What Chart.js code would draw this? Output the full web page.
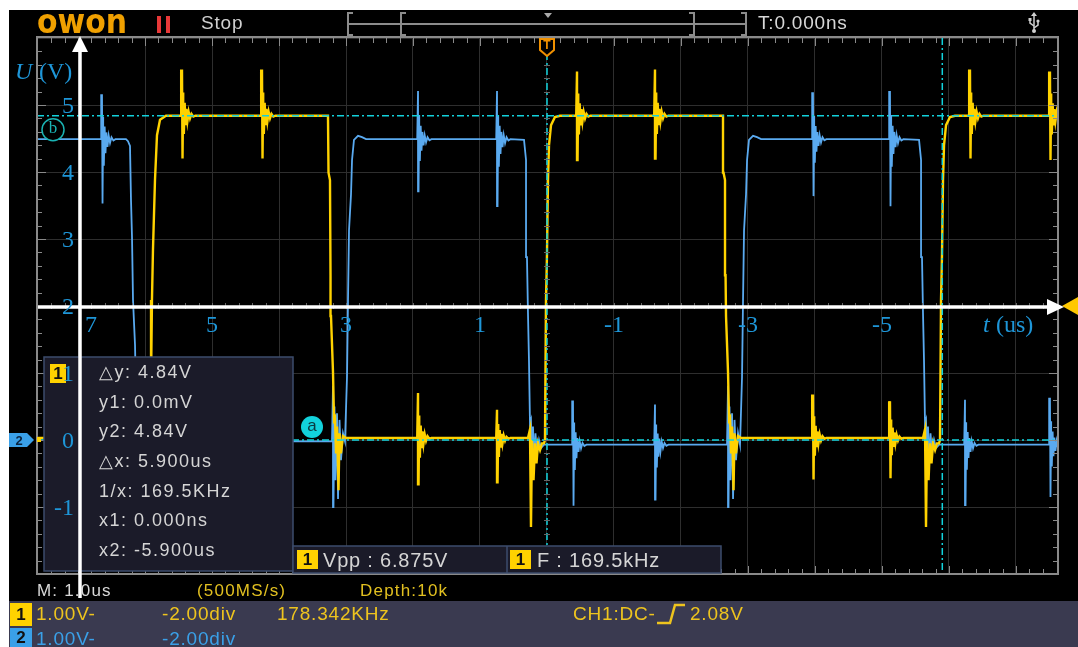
<!DOCTYPE html>
<html>
<head>
<meta charset="utf-8">
<title>OWON capture</title>
<script src="https://cdn.jsdelivr.net/npm/chart.js@4.4.1/dist/chart.umd.min.js"></script>
<style>
  html, body { margin: 0; padding: 0; background: #fff; }
  canvas { display: block; }
</style>
</head>
<body>
<canvas id="scope" width="1078" height="647"></canvas>
<script>
// CH1 (yellow) corner points, time in us (trigger = 0), volts
const ch1Time = [7.612, 5.925, 5.910, 5.896, 5.881, 5.851, 5.821, 5.776, 5.687,
  3.269, 3.261, 3.239, 3.231, 3.224, 3.194, 3.179, 3.164, 3.149, 3.134, 3.112, 3.097, 3.075, 3.045, 3.000,
  0.284, 0.254, 0.239, 0.224, 0.201, 0.179, 0.157, 0.134, 0.104, 0.075, 0.045, 0.030, 0.015, 0, -0.015, -0.030, -0.060, -0.119, -0.194,
  -2.627, -2.635, -2.657, -2.665, -2.672, -2.702, -2.717, -2.732, -2.747, -2.762, -2.784, -2.799, -2.821, -2.851, -2.896,
  -5.612, -5.642, -5.657, -5.672, -5.695, -5.717, -5.739, -5.762, -5.792, -5.821, -5.851, -5.866, -5.881, -5.896, -5.911, -5.926, -5.956, -6.015, -6.090, -7.700];
const ch1Volt = [0.03, 0.03, 0.90, 2.09, 2.84, 3.88, 4.55, 4.78, 4.84,
  4.84, 3.99, 3.88, 2.46, 1.85, 1.01, 0.30, 0.33, -0.20, 0.20, -0.75, 0.10, -0.20, 0.06, 0.03,
  0.03, 0.16, -1.30, 0.00, -0.60, -0.05, -0.35, -0.05, -0.15, -0.05, -0.05, 0.00, 2.09, 2.78, 3.88, 4.40, 4.70, 4.82, 4.84,
  4.84, 3.99, 3.88, 2.46, 1.85, 1.01, 0.30, 0.33, -0.20, 0.20, -0.75, 0.10, -0.20, 0.06, 0.03,
  0.03, 0.16, -1.30, 0.00, -0.60, -0.05, -0.35, -0.05, -0.15, -0.05, -0.05, 0.00, 2.09, 2.78, 3.88, 4.40, 4.70, 4.82, 4.84, 4.84];

// CH2 (blue) corner points
const ch2Time = [7.612, 6.284, 6.254, 6.224, 6.209, 6.194, 6.179, 6.149, 6.134, 6.104, 6.075,
  3.209, 3.194, 3.187, 3.172, 3.157, 3.134, 3.119, 3.097, 3.075, 3.045, 3.015, 2.985, 2.970, 2.955, 2.925, 2.910, 2.881, 2.821, 2.761, 2.701,
  0.343, 0.313, 0.299, 0.284, 0.269, 0.254, 0.239, 0.224, 0.209, 0.194, 0.172, 0.149, 0.119, 0.090, 0.045,
  -2.687, -2.702, -2.709, -2.724, -2.739, -2.762, -2.777, -2.799, -2.821, -2.851, -2.881, -2.911, -2.926, -2.941, -2.971, -2.986, -3.015, -3.075, -3.135, -3.195,
  -5.553, -5.583, -5.597, -5.612, -5.627, -5.642, -5.657, -5.672, -5.687, -5.702, -5.724, -5.747, -5.777, -5.806, -5.851, -7.700];
const ch2Volt = [4.49, 4.49, 4.46, 4.39, 3.58, 3.03, 2.09, 1.42, 0.60, 0.00, -0.02,
  -0.02, 0.81, -1.00, 0.50, -0.60, 0.40, -0.88, 0.30, -0.30, 0.10, -0.02, 0.94, 2.09, 3.13, 3.67, 4.18, 4.48, 4.54, 4.52, 4.49,
  4.48, 4.18, 2.73, 1.90, 1.19, 0.25, 0.30, -0.37, 0.20, -0.30, 0.10, -0.20, 0.00, -0.12, -0.07,
  -0.07, 0.81, -1.00, 0.50, -0.60, 0.40, -0.88, 0.30, -0.30, 0.10, -0.07, 0.94, 2.09, 3.13, 3.67, 4.18, 4.48, 4.54, 4.52, 4.49,
  4.48, 4.18, 2.73, 1.90, 1.19, 0.25, 0.30, -0.37, 0.20, -0.30, 0.10, -0.20, 0.00, -0.12, -0.07, -0.07];

// ringing bursts (crosstalk) on each channel: time, level, peak up, peak down
const ch1SpikeTime = [6.642, 5.448, 4.254, 1.925, 0.746, -0.448, -1.612, -3.970, -5.119, -6.313, -7.507];
const ch1SpikeBase = [0.03, 4.84, 4.84, 0.03, 0.03, 4.84, 4.84, 0.03, 0.03, 4.84, 4.84];
const ch1SpikeUp = [0.65, 0.69, 0.69, 0.67, 0.42, 0.66, 0.69, 0.65, 0.55, 0.69, 0.66];
const ch1SpikeDown = [0.65, 0.64, 0.64, 0.69, 0.66, 0.66, 0.64, 0.62, 0.60, 0.64, 0.66];

const ch2SpikeTime = [6.642, 5.448, 4.254, 1.925, 0.746, -0.388, -1.612, -3.970, -5.119, -6.239, -7.507];
const ch2SpikeBase = [4.49, -0.02, -0.02, 4.49, 4.49, -0.07, -0.07, 4.49, 4.49, -0.07, -0.07];
const ch2SpikeUp = [0.67, 0.65, 0.65, 0.72, 0.72, 0.66, 0.60, 0.70, 0.72, 0.67, 0.70];
const ch2SpikeDown = [0.96, 0.90, 0.90, 0.78, 1.00, 0.91, 0.82, 0.85, 1.00, 0.90, 0.78];

// shape of one burst as seen on screen: delay (us) and share of the peak
const ringDt = [-0.012, 0, 0.008, 0.018, 0.028, 0.040, 0.052, 0.066, 0.082, 0.100, 0.120, 0.142, 0.170, 0.200];
const ringK = [0, 1, -1, 0.5, -0.4, 0.28, -0.22, 0.15, -0.12, 0.08, -0.06, 0.04, -0.02, 0];

const gridTimes = [-7, -6, -5, -4, -3, -2, -1, 0, 1, 2, 3, 4, 5, 6, 7];
const gridVolts = [-2, -1, 0, 1, 2, 3, 4, 5, 6];
const uLabels = [5, 4, 3, 2, 1, 0, -1];
const tLabels = [7, 5, 3, 1, -1, -3, -5];
const cursorTimes = [0, -5.9];
const cursorVolts = [0, 4.84];
const measureLines = ['\u25B3y: 4.84V', 'y1: 0.0mV', 'y2: 4.84V', '\u25B3x: 5.900us', '1/x: 169.5KHz', 'x1: 0.000ns', 'x2: -5.900us'];

function buildTrace(times, volts, spT, spBase, spUp, spDown) {
  const pts = times.map((t, i) => ({x: t, y: volts[i]}));
  spT.forEach((ts, i) => {
    ringDt.forEach((d, j) => {
      const k = ringK[j];
      const dv = k >= 0 ? k * spUp[i] : k * spDown[i];
      pts.push({x: ts - d, y: spBase[i] + dv});
    });
  });
  return pts.sort((a, b) => a.x - b.x);
}

const ch1Data = buildTrace(ch1Time, ch1Volt, ch1SpikeTime, ch1SpikeBase, ch1SpikeUp, ch1SpikeDown);
const ch2Data = buildTrace(ch2Time, ch2Volt, ch2SpikeTime, ch2SpikeBase, ch2SpikeUp, ch2SpikeDown);

const YEL = '#ffd200';
const BLU = '#5aaaf0';
const CYAN = '#12d2dc';
const LBL = '#1e96d8';
const SANS = '"Liberation Sans", Arial, sans-serif';
const SERIF = '"Liberation Serif", "Times New Roman", serif';

function txt(ctx, s, x, y, color, font, align, spacing) {
  ctx.font = font;
  ctx.fillStyle = color;
  ctx.textAlign = align || 'left';
  ctx.textBaseline = 'middle';
  ctx.letterSpacing = spacing || '0px';
  ctx.fillText(s, x, y);
  ctx.letterSpacing = '0px';
}

function seg(ctx, x1, y1, x2, y2) {
  ctx.beginPath();
  ctx.moveTo(x1, y1);
  ctx.lineTo(x2, y2);
  ctx.stroke();
}

function ybox(ctx, x, y, w, h, fill, label) {
  ctx.fillStyle = fill;
  ctx.fillRect(x, y, w, h);
  txt(ctx, label, x + w / 2, y + h / 2 + 1, '#111', 'bold 17px ' + SANS, 'center');
}

const scopeDeco = {
  id: 'scopeDeco',
  beforeDraw(chart) {
    const ctx = chart.ctx;
    ctx.save();
    ctx.fillStyle = '#000';
    ctx.fillRect(0, 0, 1078, 647);
    ctx.fillStyle = '#3a3a50';
    ctx.fillRect(0, 601, 1078, 46);
    ctx.restore();
  },
  afterDraw(chart) {
    const ctx = chart.ctx;
    const xs = chart.scales.x, ys = chart.scales.y;
    const a = chart.chartArea;
    const X = v => xs.getPixelForValue(v);
    const Y = v => ys.getPixelForValue(v);
    ctx.save();

    // cursors
    ctx.strokeStyle = CYAN;
    ctx.lineWidth = 1.5;
    ctx.setLineDash([7, 3, 2, 3]);
    cursorVolts.forEach(v => seg(ctx, a.left, Y(v), a.right, Y(v)));
    cursorTimes.forEach(t => seg(ctx, X(t), a.top, X(t), a.bottom));
    ctx.setLineDash([]);

    // screen frame with ruler ticks
    ctx.strokeStyle = '#8a8a8a';
    ctx.lineWidth = 2;
    ctx.strokeRect(a.left, a.top - 1, a.right - a.left, a.bottom - a.top + 1);
    ctx.lineWidth = 1;
    for (let k = -38; k <= 38; k++) {
      const px = Math.round(X(k * 0.2)) + 0.5;
      if (px < a.left + 2 || px > a.right - 2) continue;
      const len = k % 5 === 0 ? 8 : 5;
      seg(ctx, px, a.top, px, a.top + len);
      seg(ctx, px, a.bottom, px, a.bottom - len);
      ctx.strokeStyle = '#666';
      seg(ctx, px, Y(2) - 3, px, Y(2) + 3);
      ctx.strokeStyle = '#8a8a8a';
    }
    for (let k = -10; k <= 30; k++) {
      const py = Math.round(Y(k * 0.2)) + 0.5;
      if (py < a.top + 2 || py > a.bottom - 2) continue;
      const len = k % 5 === 0 ? 9 : 5;
      seg(ctx, a.left, py, a.left + len, py);
      seg(ctx, a.right, py, a.right - len, py);
      ctx.strokeStyle = '#666';
      seg(ctx, X(0) - 3, py, X(0) + 3, py);
      ctx.strokeStyle = '#8a8a8a';
    }

    // trigger marker on top
    const tx = X(0);
    ctx.strokeStyle = '#f09000';
    ctx.lineWidth = 2;
    ctx.fillStyle = '#000';
    ctx.beginPath();
    ctx.moveTo(tx - 7, 39); ctx.lineTo(tx + 7, 39); ctx.lineTo(tx + 7, 50);
    ctx.lineTo(tx, 56); ctx.lineTo(tx - 7, 50); ctx.closePath();
    ctx.fill(); ctx.stroke();
    txt(ctx, 'T', tx, 46, '#f09000', 'bold 12px ' + SANS, 'center');

    // channel 2 ground marker
    const gy = Y(0);
    ctx.fillStyle = '#3aa0e8';
    ctx.beginPath();
    ctx.moveTo(9, gy - 7); ctx.lineTo(27, gy - 7); ctx.lineTo(34, gy);
    ctx.lineTo(27, gy + 7); ctx.lineTo(9, gy + 7); ctx.closePath(); ctx.fill();
    txt(ctx, '2', 19, gy + 1, '#0a2440', 'bold 13px ' + SANS, 'center');
    ctx.fillStyle = YEL;
    ctx.fillRect(37, gy - 3, 4, 5);

    // trigger level arrow on the right
    ctx.fillStyle = '#ffc800';
    ctx.beginPath();
    ctx.moveTo(1062, 306); ctx.lineTo(1078, 297); ctx.lineTo(1078, 315); ctx.closePath(); ctx.fill();

    // cursor tags
    ctx.fillStyle = CYAN;
    ctx.beginPath(); ctx.arc(312, Y(0) - 13, 11, 0, Math.PI * 2); ctx.fill();
    txt(ctx, 'a', 312, Y(0) - 14, '#0a3a40', '17px ' + SANS, 'center');
    ctx.strokeStyle = '#1ab4b4';
    ctx.lineWidth = 1.5;
    ctx.fillStyle = '#000';
    ctx.beginPath(); ctx.arc(53, Y(4.84) + 14, 11, 0, Math.PI * 2); ctx.fill(); ctx.stroke();
    txt(ctx, 'b', 53, Y(4.84) + 13, '#1ab4b4', '17px ' + SERIF, 'center');

    // cursor measurement box
    ctx.fillStyle = '#1b1b29';
    ctx.fillRect(44, 357, 249, 214);
    ctx.strokeStyle = '#3c4c6c';
    ctx.lineWidth = 1.5;
    ctx.strokeRect(44, 357, 249, 214);
    ybox(ctx, 50, 364, 16, 19, YEL, '1');
    measureLines.forEach((s, i) => txt(ctx, s, 99, 373 + i * 29.7, '#d5d5d5', '18px ' + SANS, 'left', '1.5px'));

    // Vpp / F box
    ctx.fillStyle = '#1b1b29';
    ctx.fillRect(293, 546, 428, 27);
    ctx.strokeStyle = '#3c4c6c';
    ctx.strokeRect(293, 546, 428, 27);
    seg(ctx, 507, 546, 507, 573);
    ybox(ctx, 297, 550, 21, 19, YEL, '1');
    txt(ctx, 'Vpp : 6.875V', 323, 561, '#d5d5d5', '20px ' + SANS, 'left', '0.8px');
    ybox(ctx, 510, 550, 21, 19, YEL, '1');
    txt(ctx, 'F : 169.5kHz', 537, 561, '#d5d5d5', '20px ' + SANS, 'left', '0.8px');

    // top bar
    ctx.save();
    ctx.font = 'bold 34px "DejaVu Sans", sans-serif';
    const lw = ctx.measureText('owon').width;
    ctx.translate(37, 33);
    ctx.scale(90 / lw, 1);
    ctx.fillStyle = '#f0a000';
    ctx.textBaseline = 'alphabetic';
    ctx.textAlign = 'left';
    ctx.fillText('owon', 0, 0);
    ctx.restore();
    ctx.fillStyle = '#e83838';
    ctx.fillRect(157, 16, 4, 17);
    ctx.fillRect(166, 16, 4, 17);
    txt(ctx, 'Stop', 201, 24, '#d0d0d0', '19px ' + SANS, 'left', '0.8px');
    ctx.strokeStyle = '#8c8c8c';
    ctx.lineWidth = 2;
    seg(ctx, 349, 24, 745, 24);
    [[348, 1], [401, 1], [694, -1], [746, -1]].forEach(([bx, dir]) => {
      ctx.beginPath();
      ctx.moveTo(bx + 5 * dir, 13); ctx.lineTo(bx, 13); ctx.lineTo(bx, 35); ctx.lineTo(bx + 5 * dir, 35);
      ctx.stroke();
    });
    ctx.fillStyle = '#aaa';
    ctx.beginPath(); ctx.moveTo(544, 13); ctx.lineTo(552, 13); ctx.lineTo(548, 18); ctx.closePath(); ctx.fill();
    txt(ctx, 'T:0.000ns', 758, 24, '#d8d8d8', '19px ' + SANS, 'left', '0.8px');
    // usb icon
    ctx.strokeStyle = '#d0d0d0';
    ctx.fillStyle = '#d0d0d0';
    ctx.lineWidth = 1.5;
    seg(ctx, 1034, 15, 1034, 31);
    ctx.beginPath(); ctx.moveTo(1031, 16); ctx.lineTo(1037, 16); ctx.lineTo(1034, 12); ctx.closePath(); ctx.fill();
    ctx.beginPath(); ctx.moveTo(1034, 26); ctx.lineTo(1030, 23); ctx.lineTo(1030, 20); ctx.stroke();
    ctx.fillRect(1028.5, 18, 3, 3);
    ctx.beginPath(); ctx.moveTo(1034, 28); ctx.lineTo(1038, 25); ctx.lineTo(1038, 22); ctx.stroke();
    ctx.beginPath(); ctx.arc(1038, 21, 1.6, 0, Math.PI * 2); ctx.fill();
    ctx.beginPath(); ctx.arc(1034, 31, 2, 0, Math.PI * 2); ctx.fill();

    // status line and channel panel
    txt(ctx, 'M: 1.0us', 37, 591, '#d8d8d8', '17px ' + SANS, 'left', '1.2px');
    txt(ctx, '(500MS/s)', 197, 591, '#e2c020', '17px ' + SANS, 'left', '1.2px');
    txt(ctx, 'Depth:10k', 360, 591, '#e2c020', '17px ' + SANS, 'left', '1.2px');
    ybox(ctx, 10, 603, 22, 23, YEL, '1');
    txt(ctx, '1.00V-', 36, 615, '#eec41e', '19px ' + SANS, 'left', '0.8px');
    txt(ctx, '-2.00div', 162, 615, '#eec41e', '19px ' + SANS, 'left', '0.8px');
    txt(ctx, '178.342KHz', 277, 615, '#eec41e', '19px ' + SANS, 'left', '0.8px');
    txt(ctx, 'CH1:DC-', 573, 615, '#eec41e', '19px ' + SANS, 'left', '0.8px');
    ctx.strokeStyle = '#eec41e';
    ctx.lineWidth = 2.5;
    ctx.beginPath();
    ctx.moveTo(657, 623); ctx.lineTo(670, 623); ctx.lineTo(675, 605); ctx.lineTo(685, 605);
    ctx.stroke();
    txt(ctx, '2.08V', 690, 615, '#eec41e', '19px ' + SANS, 'left', '0.8px');
    ybox(ctx, 10, 628, 22, 19, '#3aa0e8', '2');
    txt(ctx, '1.00V-', 36, 640, '#3aa0e8', '19px ' + SANS, 'left', '0.8px');
    txt(ctx, '-2.00div', 162, 640, '#3aa0e8', '19px ' + SANS, 'left', '0.8px');

    // white margin of the capture
    ctx.fillStyle = '#fff';
    ctx.fillRect(0, 0, 1078, 10);
    ctx.fillRect(0, 0, 9, 647);

    // hand drawn axes on top of the capture
    const ax = 80, ay = 307;
    ctx.strokeStyle = '#fff';
    ctx.fillStyle = '#fff';
    ctx.lineWidth = 3.5;
    seg(ctx, ax, 598, ax, 50);
    ctx.beginPath(); ctx.moveTo(ax, 36); ctx.lineTo(ax - 8, 52); ctx.lineTo(ax + 8, 52); ctx.closePath(); ctx.fill();
    seg(ctx, 38, ay, 1050, ay);
    ctx.beginPath(); ctx.moveTo(1064, ay); ctx.lineTo(1047, ay - 8); ctx.lineTo(1047, ay + 8); ctx.closePath(); ctx.fill();

    uLabels.forEach(v => txt(ctx, String(v), 74, Y(v) + 2, LBL, '24px ' + SERIF, 'right'));
    tLabels.forEach(t => {
      let px = X(t);
      if (Math.abs(px - ax) < 14) px = ax + 11;
      txt(ctx, String(t), px, 326, LBL, '24px ' + SERIF, 'center');
    });
    txt(ctx, 'U', 15, 73, LBL, 'italic 24px ' + SERIF, 'left');
    txt(ctx, '(V)', 39, 73, LBL, '24px ' + SERIF, 'left');
    txt(ctx, 't', 983, 326, LBL, 'italic 24px ' + SERIF, 'left');
    txt(ctx, '(us)', 996, 326, LBL, '24px ' + SERIF, 'left');

    ctx.restore();
  }
};

new Chart(document.getElementById('scope'), {
  type: 'line',
  data: {
    datasets: [
      { label: 'CH1', data: ch1Data, borderColor: YEL, borderWidth: 2.4, pointRadius: 0, tension: 0 },
      { label: 'CH2', data: ch2Data, borderColor: BLU, borderWidth: 1.8, pointRadius: 0, tension: 0 }
    ]
  },
  options: {
    responsive: false,
    animation: false,
    devicePixelRatio: 1,
    layout: { padding: { left: 37, right: 20, top: 38, bottom: 73 } },
    plugins: { legend: { display: false }, tooltip: { enabled: false } },
    scales: {
      x: {
        type: 'linear', reverse: true, min: -7.627, max: 7.612,
        ticks: { display: false },
        grid: { color: '#2e2e2e', drawTicks: false },
        border: { display: false },
        afterBuildTicks: s => { s.ticks = gridTimes.map(v => ({ value: v })); }
      },
      y: {
        type: 'linear', min: -2, max: 6,
        ticks: { display: false },
        grid: { color: '#2e2e2e', drawTicks: false },
        border: { display: false },
        afterBuildTicks: s => { s.ticks = gridVolts.map(v => ({ value: v })); }
      }
    }
  },
  plugins: [scopeDeco]
});
</script>
</body>
</html>
